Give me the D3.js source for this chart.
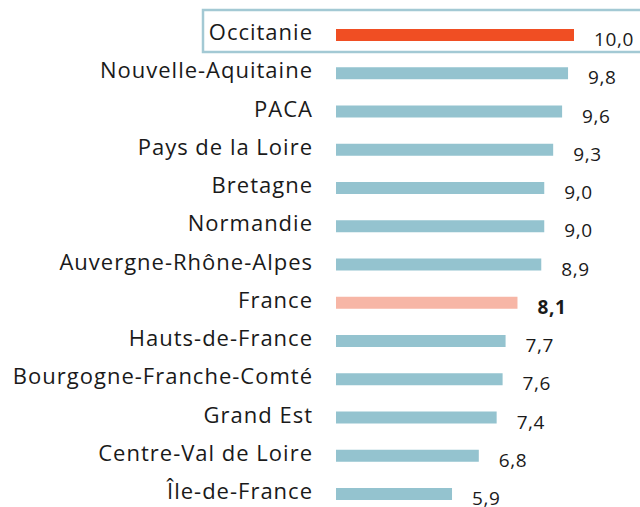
<!DOCTYPE html>
<html>
<head>
<meta charset="utf-8">
<script src="https://cdn.jsdelivr.net/npm/d3@7"></script>
<style>
  body { margin: 0; background: #fff; }
  text { font-family: "Open Sans", sans-serif; fill: #1a1a1a; }
</style>
</head>
<body>
<div id="chart"></div>
<script>
// Data
const regions = ["Occitanie", "Nouvelle-Aquitaine", "PACA", "Pays de la Loire", "Bretagne",
  "Normandie", "Auvergne-Rhône-Alpes", "France", "Hauts-de-France",
  "Bourgogne-Franche-Comté", "Grand Est", "Centre-Val de Loire", "Île-de-France"];
const values = [10.0, 9.8, 9.6, 9.3, 9.0, 9.0, 8.9, 8.1, 7.7, 7.6, 7.4, 6.8, 5.9];
const data = regions.map((r, i) => ({region: r, value: values[i]}));

const width = 640, height = 507;

const svg = d3.select("#chart")
    .append("svg")
    .attr("width", width)
    .attr("height", height);

// Scales (axis is cut at 2)
const xScale = d3.scaleLinear()
    .domain([2, 10])
    .range([336, 574]);

const yScale = d3.scalePoint()
    .domain(regions)
    .range([35, 494]);

const barH = 12;
const fmt = v => d3.format(".1f")(v).replace(".", ",");

const color = d => d.region === "Occitanie" ? "#f04e23"
    : d.region === "France" ? "#f7b6a6" : "#94c3cf";

// Highlight box around Occitanie
svg.append("rect")
    .attr("x", 203)
    .attr("y", yScale("Occitanie") - 25)
    .attr("width", 460)
    .attr("height", 42)
    .attr("fill", "none")
    .attr("stroke", "#a3c9d4")
    .attr("stroke-width", 2.5);

// Bars
svg.selectAll(".bar")
    .data(data)
    .enter().append("rect")
    .attr("class", "bar")
    .attr("x", xScale(2))
    .attr("y", d => yScale(d.region) - barH / 2)
    .attr("width", d => xScale(d.value) - xScale(2))
    .attr("height", barH)
    .attr("fill", color);

// Category labels
svg.selectAll(".label")
    .data(data)
    .enter().append("text")
    .attr("class", "label")
    .attr("x", 313)
    .attr("y", d => yScale(d.region) + 5)
    .attr("text-anchor", "end")
    .style("font-size", "22px")
    .style("letter-spacing", "1px")
    .text(d => d.region);

// Value labels
svg.selectAll(".value")
    .data(data)
    .enter().append("text")
    .attr("class", "value")
    .attr("x", d => xScale(d.value) + 20)
    .attr("y", d => yScale(d.region) + 11)
    .style("font-size", "19px")
    .style("letter-spacing", "0.6px")
    .style("font-weight", d => d.region === "France" ? "bold" : "normal")
    .text(d => fmt(d.value));
</script>
</body>
</html>
